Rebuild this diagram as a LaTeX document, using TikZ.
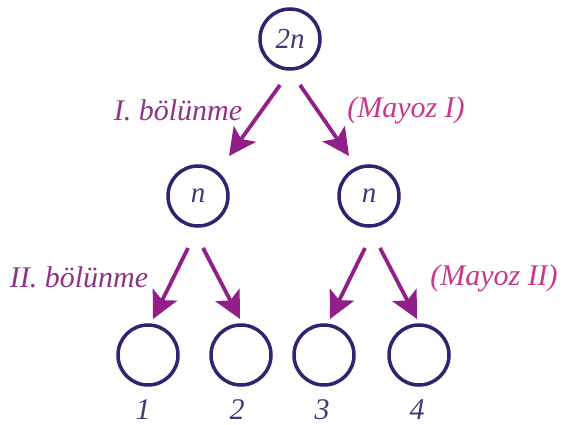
\documentclass[tikz,border=0pt]{standalone}
\usepackage{fontspec}
\setmainfont{Liberation Serif}
\usetikzlibrary{arrows.meta,calc}
\definecolor{ringcol}{HTML}{2E2470}
\definecolor{inkcol}{HTML}{3D3A78}
\definecolor{arrcol}{HTML}{921E88}
\definecolor{stagecol}{HTML}{8E3386}
\definecolor{mayozcol}{HTML}{C8388A}
\tikzset{
  cell/.style={circle, draw=ringcol, line width=3.5pt, minimum size=60pt, inner sep=0pt,
               text=inkcol, font=\fontsize{29}{29}\selectfont\itshape},
  arr/.style={draw=arrcol, line width=3.8pt,
              -{Stealth[length=27pt, width=27pt, inset=6pt]}},
  stage/.style={text=stagecol, font=\fontsize{30}{30}\selectfont\itshape, inner sep=0pt},
  mayoz/.style={text=mayozcol, font=\fontsize{30}{30}\selectfont\itshape, inner sep=0pt},
  num/.style={text=inkcol, font=\fontsize{30}{30}\selectfont\itshape, inner sep=0pt}
}
\begin{document}
\begin{tikzpicture}[x=1pt, y=-1pt]
\useasboundingbox (0,0) rectangle (565,425);

% cells
\node[cell] (top) at (290,39) {2n};
\node[cell] (nl) at (198,196) {n};
\node[cell] (nr) at (369,196) {n};
\node[cell] (b1) at (148,355) {};
\node[cell] (b2) at (241,355) {};
\node[cell] (b3) at (324,355) {};
\node[cell] (b4) at (419,355) {};

% arrow end points
\coordinate (s1) at ($(top)+(-10,46)$);
\coordinate (e1) at ($(nl)+(31,-40)$);
\coordinate (s2) at ($(top)+(10,46)$);
\coordinate (e2) at ($(nr)+(-20,-40)$);
\coordinate (s3) at ($(nl)+(-10,52)$);
\coordinate (e3) at ($(b1)+(5,-36)$);
\coordinate (s4) at ($(nl)+(5,52)$);
\coordinate (e4) at ($(b2)+(-1,-36)$);
\coordinate (s5) at ($(nr)+(-4,52)$);
\coordinate (e5) at ($(b3)+(6,-36)$);
\coordinate (s6) at ($(nr)+(11,52)$);
\coordinate (e6) at ($(b4)+(-2,-36)$);

\draw[arr] (s1) -- (e1);
\draw[arr] (s2) -- (e2);
\draw[arr] (s3) -- (e3);
\draw[arr] (s4) -- (e4);
\draw[arr] (s5) -- (e5);
\draw[arr] (s6) -- (e6);

% stage labels
\node[stage] (l1) at (178,110) {I. bölünme};
\node[mayoz] (m1) at (406,110) {(Mayoz I)};
\node[stage] (l2) at (79,277) {II. bölünme};
\node[mayoz] (m2) at (494,278) {(Mayoz II)};

% cell numbers
\node[num] (n1) at (143,410) {1};
\node[num] (n2) at (237,410) {2};
\node[num] (n3) at (322,410) {3};
\node[num] (n4) at (417,410) {4};
\end{tikzpicture}
\end{document}
